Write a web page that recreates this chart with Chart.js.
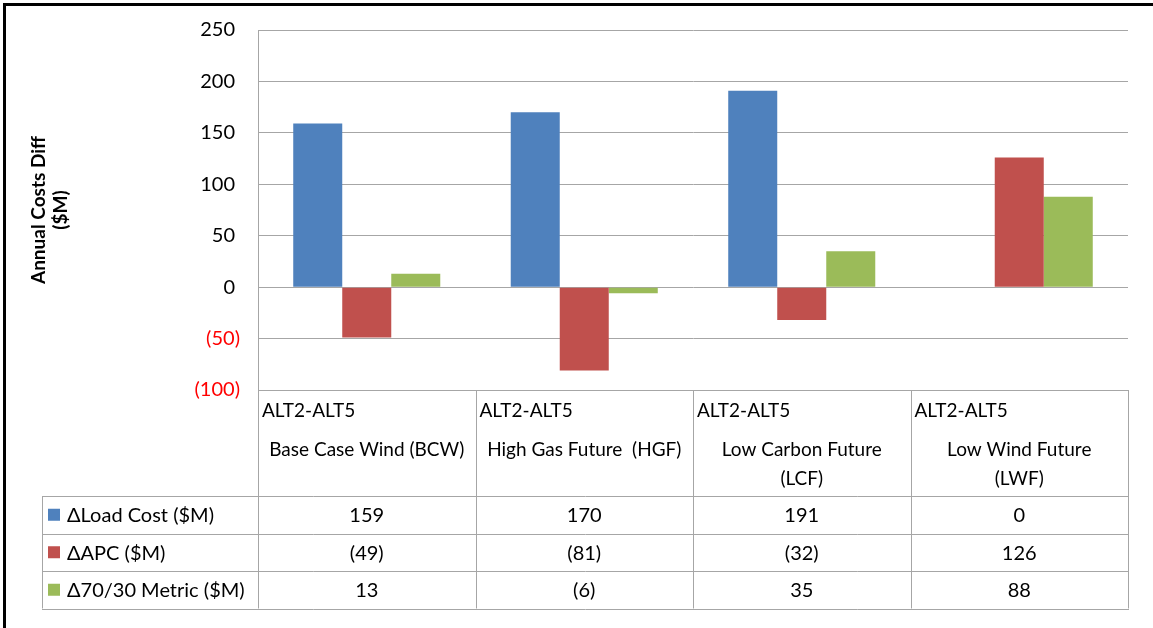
<!DOCTYPE html>
<html>
<head>
<meta charset="utf-8">
<script src="https://cdn.jsdelivr.net/npm/chart.js@4.4.0/dist/chart.umd.min.js"></script>
<style>
  html, body { margin: 0; padding: 0; background: #fff; }
  #box { position: relative; width: 1153px; height: 628px; }
  #frame { position: absolute; left: 3px; top: 3px; right: 0; bottom: 0;
           border-left: 3px solid #000; border-top: 3px solid #000; pointer-events: none; }
</style>
</head>
<body>
<div id="box">
  <canvas id="chart" width="1153" height="628"></canvas>
  <div id="frame"></div>
</div>
<script>
// data
var categories = [
    ['ALT2-ALT5', 'Base Case Wind (BCW)'],
    ['ALT2-ALT5', 'High Gas Future  (HGF)'],
    ['ALT2-ALT5', 'Low Carbon Future', '(LCF)'],
    ['ALT2-ALT5', 'Low Wind Future', '(LWF)']
];
var seriesNames = ['\u0394Load Cost ($M)', '\u0394APC ($M)', '\u039470/30 Metric ($M)'];
var loadCost = [159, 170, 191, 0];
var apc = [-49, -81, -32, 126];
var metric = [13, -6, 35, 88];
var yMin = -100;
var yMax = 250;
var yStep = 50;

var colors = ['#4F81BD', '#C0504D', '#9BBB59'];
var FONT = 'Lato, Carlito, Calibri, "Open Sans", sans-serif';
var lineColor = '#a6a6a6';

function fmt(v) {
    return v < 0 ? '(' + (-v) + ')' : String(v);
}

// DATA TABLE under the plot
var dataTable = {
    id: 'dataTable',
    afterDraw: function (chart) {
        var ctx = chart.ctx;
        var a = chart.chartArea;
        var x = chart.scales.x;
        var n = categories.length;
        var colW = (a.right - a.left) / n;
        var headBottom = a.bottom + 106;
        var rowH = 37.5;
        var legendLeft = 42;
        var series = chart.data.datasets;
        var tableBottom = headBottom + rowH * series.length;

        ctx.save();
        ctx.strokeStyle = lineColor;
        ctx.lineWidth = 1;

        function hline(x1, x2, y) {
            ctx.beginPath();
            ctx.moveTo(x1, Math.round(y) + 0.5);
            ctx.lineTo(x2, Math.round(y) + 0.5);
            ctx.stroke();
        }
        function vline(xx, y1, y2) {
            ctx.beginPath();
            ctx.moveTo(Math.round(xx) + 0.5, y1);
            ctx.lineTo(Math.round(xx) + 0.5, y2);
            ctx.stroke();
        }
        hline(a.left, a.right, a.bottom);
        for (var r = 0; r <= series.length; r++) {
            hline(legendLeft, a.right + 1, headBottom + r * rowH);
        }
        for (var c = 0; c <= n; c++) {
            vline(a.left + c * colW, a.bottom, tableBottom);
        }
        vline(legendLeft, headBottom, tableBottom);

        // header text
        ctx.fillStyle = '#000';
        ctx.font = '19px ' + FONT;
        ctx.textBaseline = 'middle';
        for (var i = 0; i < n; i++) {
            var cx = x.getPixelForValue(i);
            var left = a.left + i * colW;
            var lines = categories[i];
            ctx.textAlign = 'left';
            ctx.fillText(lines[0], left + 4, a.bottom + 21);
            ctx.textAlign = 'center';
            for (var k = 1; k < lines.length; k++) {
                ctx.fillText(lines[k], cx, a.bottom + 60 + (k - 1) * 29);
            }
        }

        // rows
        ctx.font = '20px ' + FONT;
        for (var s = 0; s < series.length; s++) {
            var cy = headBottom + (s + 0.5) * rowH;
            ctx.fillStyle = series[s].backgroundColor;
            ctx.fillRect(48, cy - 6, 12, 12);
            ctx.fillStyle = '#000';
            ctx.textAlign = 'left';
            ctx.fillText(series[s].label, 67, cy + 1);
            ctx.textAlign = 'center';
            for (var j = 0; j < n; j++) {
                ctx.fillText(fmt(series[s].data[j]), x.getPixelForValue(j), cy + 1);
            }
        }
        ctx.restore();
    }
};

new Chart(document.getElementById('chart'), {
    type: 'bar',
    data: {
        labels: categories,
        datasets: [
            { label: seriesNames[0], data: loadCost, backgroundColor: colors[0] },
            { label: seriesNames[1], data: apc, backgroundColor: colors[1] },
            { label: seriesNames[2], data: metric, backgroundColor: colors[2] }
        ]
    },
    options: {
        responsive: false,
        animation: false,
        devicePixelRatio: 1,
        layout: { padding: { left: 0, top: 20, right: 25, bottom: 238 } },
        datasets: { bar: { categoryPercentage: 0.676, barPercentage: 1 } },
        plugins: {
            legend: { display: false },
            tooltip: { enabled: false }
        },
        scales: {
            x: { display: false },
            y: {
                min: yMin,
                max: yMax,
                afterFit: function (scale) { scale.width = 258; },
                ticks: {
                    stepSize: yStep,
                    padding: 18,
                    font: { family: FONT, size: 20 },
                    color: function (c) { return c.tick.value < 0 ? '#ff0000' : '#000'; },
                    callback: function (v) { return v < 0 ? fmt(v) : fmt(v) + '\u2005'; }
                },
                grid: { color: lineColor, drawTicks: false },
                border: { color: lineColor },
                title: {
                    display: true,
                    text: ['Annual Costs Diff', '($M)'],
                    font: { family: FONT, size: 19, weight: 'bold', lineHeight: 1.15 },
                    color: '#000',
                    padding: { top: 28, bottom: 0 }
                }
            }
        }
    },
    plugins: [dataTable]
});
</script>
</body>
</html>
